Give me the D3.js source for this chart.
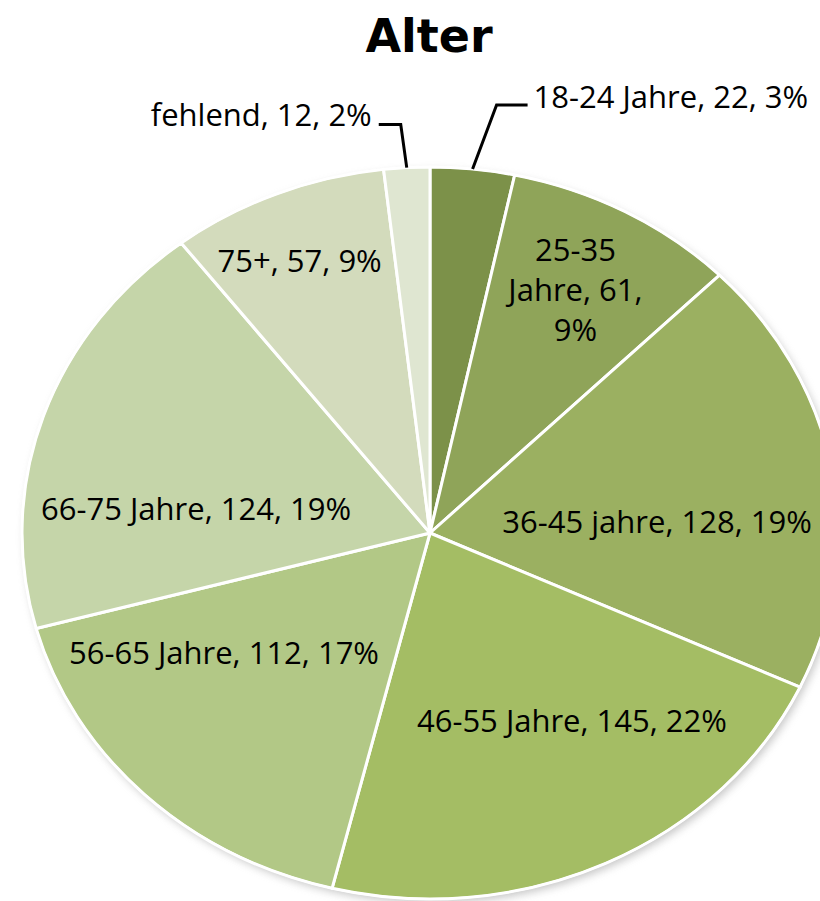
<!DOCTYPE html>
<html>
<head>
<meta charset="utf-8">
<script src="https://cdn.jsdelivr.net/npm/d3@7"></script>
<style>
  body { margin: 0; background: #fff; }
</style>
</head>
<body>
<div id="chart-area"></div>
<script>
// Alter - pie chart data
const categories = ["18-24 Jahre", "25-35 Jahre", "36-45 jahre", "46-55 Jahre",
                    "56-65 Jahre", "66-75 Jahre", "75+", "fehlend"]
const values = [22, 61, 128, 145, 112, 124, 57, 12]
const colors = ["#7c9149", "#8fa459", "#9bb061", "#a4bd64",
                "#b2c886", "#c5d5a9", "#d3dbbc", "#dfe6d1"]

const width = 820, height = 901
const cx = 430, cy = 533, rx = 408, ry = 366

// label placement per slice: radial factor k, then nudge
const labelLayout = [
    { outside: true, elbow: [24, -64], end: [31, 0], text: [6, -9], anchor: "start" },
    { k: 0.75, dx: -1, dy: -3, lines: ["25-35", "Jahre, 61,", "9%"] },
    { k: 0.565, dx: 0, dy: 24 },
    { k: 0.55, dx: 45, dy: 5 },
    { k: 0.55, dx: -49, dy: -25 },
    { k: 0.6, dx: -2, dy: 45 },
    { k: 0.72, dx: -20, dy: -29 },
    { outside: true, elbow: [-6, -43], end: [-22, 0], text: [-7, -11], anchor: "end" }
]

const total = d3.sum(values)

const svg = d3.select("#chart-area").append("svg")
    .attr("width", width)
    .attr("height", height)

const defs = svg.append("defs")
defs.append("filter")
    .attr("id", "shadow")
    .attr("x", "-10%").attr("y", "-10%")
    .attr("width", "120%").attr("height", "120%")
  .append("feGaussianBlur")
    .attr("stdDeviation", 4)

// title
svg.append("text")
    .attr("x", 429)
    .attr("y", 52)
    .attr("text-anchor", "middle")
    .attr("font-family", "DejaVu Sans, Verdana, sans-serif")
    .attr("font-weight", "bold")
    .attr("font-size", 46)
    .attr("fill", "#000")
    .text("Alter")

// soft shadow behind the pie
svg.append("ellipse")
    .attr("cx", cx + 3)
    .attr("cy", cy + 4)
    .attr("rx", rx)
    .attr("ry", ry)
    .attr("fill", "#999")
    .attr("opacity", 0.55)
    .attr("filter", "url(#shadow)")

const pie = d3.pie().sort(null).value(d => d)
const arcs = pie(values)

const arc = d3.arc().innerRadius(0).outerRadius(ry)

const g = svg.append("g")
    .attr("transform", `translate(${cx},${cy}) scale(${rx / ry},1)`)

g.selectAll("path")
    .data(arcs)
    .join("path")
    .attr("d", arc)
    .attr("fill", (d, i) => colors[i])
    .attr("stroke", "#fff")
    .attr("stroke-width", 3)
    .attr("stroke-linejoin", "round")
    .attr("vector-effect", "non-scaling-stroke")

// white outline round the pie
svg.append("ellipse")
    .attr("cx", cx).attr("cy", cy)
    .attr("rx", rx).attr("ry", ry)
    .attr("fill", "none")
    .attr("stroke", "#fff")
    .attr("stroke-width", 2)

// point on the ellipse at angle a (from 12 o'clock, clockwise), radial factor k
function ellPoint(a, k) {
    return [cx + rx * k * Math.sin(a), cy - ry * k * Math.cos(a)]
}

const labels = svg.append("g")
    .attr("font-family", "Open Sans, sans-serif")
    .attr("font-size", 31)
    .attr("fill", "#000")

arcs.forEach((d, i) => {
    const mid = (d.startAngle + d.endAngle) / 2
    const pct = Math.round(d.value / total * 100)
    const txt = `${categories[i]}, ${d.value}, ${pct}%`
    const L = labelLayout[i]

    if (L.outside) {
        const p0 = ellPoint(mid, 1)
        const p1 = [p0[0] + L.elbow[0], p0[1] + L.elbow[1]]
        const p2 = [p1[0] + L.end[0], p1[1] + L.end[1]]
        svg.append("path")
            .attr("d", d3.line()([p0, p1, p2]))
            .attr("fill", "none")
            .attr("stroke", "#000")
            .attr("stroke-width", 3)
        labels.append("text")
            .attr("x", p2[0] + L.text[0])
            .attr("y", p2[1] + L.text[1])
            .attr("text-anchor", L.anchor)
            .attr("dominant-baseline", "central")
            .text(txt)
        return
    }

    const p = ellPoint(mid, L.k)
    const x = p[0] + L.dx, y = p[1] + L.dy
    const lines = L.lines || [txt]
    const lh = 40
    const t = labels.append("text")
        .attr("text-anchor", "middle")
        .attr("dominant-baseline", "central")
    lines.forEach((ln, j) => {
        t.append("tspan")
            .attr("x", x)
            .attr("y", y + (j - (lines.length - 1) / 2) * lh)
            .text(ln)
    })
})
</script>
</body>
</html>
